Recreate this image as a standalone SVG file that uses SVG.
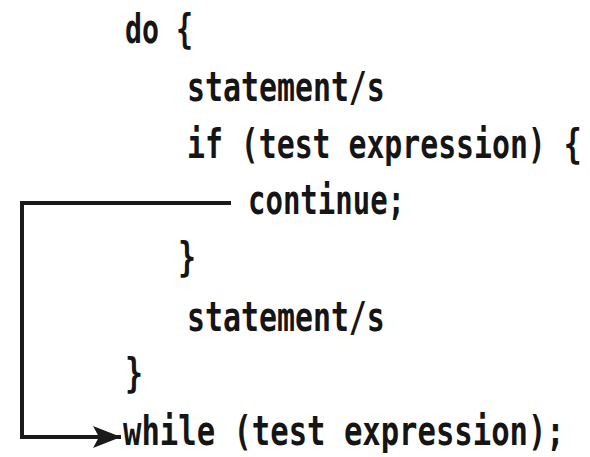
<svg xmlns="http://www.w3.org/2000/svg" width="590" height="457" viewBox="0 0 590 457">
<style>
.code{font-family:"DejaVu Sans Mono","Liberation Mono",monospace;font-weight:bold;font-size:41px;fill:#151515}
.conn{fill:none;stroke:#1a1a1a;stroke-width:4}
</style>
<defs>
<marker id="ah" markerUnits="userSpaceOnUse" markerWidth="28" markerHeight="22" refX="28" refY="11" orient="auto">
<path d="M0,0 L28,11 L0,22 L6,11 Z" fill="#1a1a1a"/>
</marker>
</defs>
<rect width="590" height="457" fill="#ffffff"/>
<g id="code">
<text id="l1" class="code" transform="translate(125,43) scale(0.69,1)">do {</text>
<text id="l2" class="code" transform="translate(187,101) scale(0.729,1)">statement/s</text>
<text id="l3" class="code" transform="translate(187,158) scale(0.727,1)">if (test expression) {</text>
<text id="l4" class="code" transform="translate(248,214) scale(0.707,1)">continue;</text>
<text id="l5" class="code" transform="translate(178,271) scale(0.73,1)">}</text>
<text id="l6" class="code" transform="translate(187,331) scale(0.729,1)">statement/s</text>
<text id="l7" class="code" transform="translate(125,387) scale(0.73,1)">}</text>
<text id="l8" class="code" transform="translate(123,445) scale(0.746,1)">while (test expression);</text>
</g>
<g id="connectors">
<path class="conn" d="M231,203 L22,203 L22,437 L121,437" marker-end="url(#ah)"/>
</g>
</svg>
